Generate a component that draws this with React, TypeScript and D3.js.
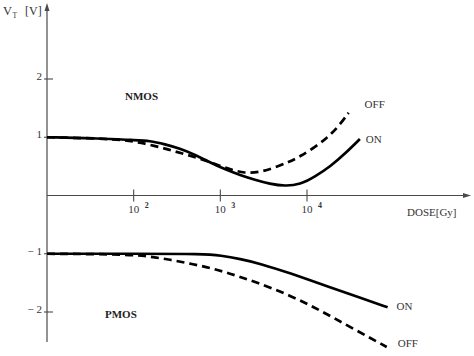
import React from "react";
import * as d3 from "d3";

// ---- data (dose in Gy, threshold voltage in V) ----
const nmosOnDose = [10, 41, 100, 155, 229, 339, 513, 759, 1122, 1698, 2512, 3715, 5623, 8318, 12303, 18621, 27542, 40738];
const nmosOnVt = [1.0, 0.98, 0.95, 0.94, 0.88, 0.81, 0.7, 0.57, 0.45, 0.35, 0.27, 0.2, 0.16, 0.19, 0.32, 0.5, 0.72, 0.97];

const nmosOffDose = [10, 41, 79, 117, 178, 263, 389, 589, 871, 1288, 1905, 2884, 4266, 6310, 8318, 12303, 17378, 22909, 30200];
const nmosOffVt = [1.0, 0.98, 0.95, 0.91, 0.85, 0.78, 0.71, 0.63, 0.54, 0.45, 0.38, 0.4, 0.48, 0.58, 0.67, 0.83, 1.0, 1.18, 1.42];

const pmosOnDose = [10, 100, 661, 1000, 1698, 2884, 6310, 18621, 40738, 85114];
const pmosOnVt = [-1.0, -1.0, -1.0, -1.03, -1.09, -1.17, -1.33, -1.58, -1.75, -1.92];

const pmosOffDose = [10, 91, 155, 263, 447, 759, 1288, 2512, 6310, 14125, 31623, 83176];
const pmosOffVt = [-1.0, -1.01, -1.05, -1.1, -1.17, -1.24, -1.34, -1.48, -1.71, -1.97, -2.26, -2.6];

const xTickExp = [2, 3, 4];
const yTicks = [2, 1, -1, -2];
const yTickLabels = ["2", "1", "\u2212 1", "\u2212 2"];

const W = 474;
const H = 356;
const serif = "Times New Roman, Liberation Serif, DejaVu Serif, serif";

export default function App() {
  const x = d3.scaleLog().domain([10, 10000]).range([47, 307]);
  const y = d3.scaleLinear().domain([-2, 2]).range([312, 79]);
  const x0 = x(10);
  const y0 = y(0);

  const line = d3
    .line<[number, number]>()
    .x((d) => x(d[0]))
    .y((d) => y(d[1]))
    .curve(d3.curveBasis);

  const zip = (a: number[], b: number[]) => a.map((v, i) => [v, b[i]] as [number, number]);

  const axisColor = "#4a4a4a";
  const textColor = "#333";

  const series = [
    { d: zip(nmosOnDose, nmosOnVt), dash: undefined },
    { d: zip(nmosOffDose, nmosOffVt), dash: "8,5" },
    { d: zip(pmosOnDose, pmosOnVt), dash: undefined },
    { d: zip(pmosOffDose, pmosOffVt), dash: "8,5" },
  ];

  const last = (a: number[]) => a[a.length - 1];

  return (
    <div style={{ position: "fixed", left: 0, top: 0 }}>
      <svg width={W} height={H} style={{ display: "block", background: "#fff" }}>
        {/* axes */}
        <line x1={x0} y1={8} x2={x0} y2={342} stroke={axisColor} strokeWidth={1.2} />
        <path d={`M${x0},3 L${x0 - 2.5},11 L${x0 + 2.5},11 Z`} fill={axisColor} />
        <line x1={x0} y1={y0} x2={465} y2={y0} stroke={axisColor} strokeWidth={1.2} />
        <path d={`M471,${y0} L463,${y0 - 2.5} L463,${y0 + 2.5} Z`} fill={axisColor} />

        {/* y ticks */}
        {yTicks.map((t, i) => (
          <g key={"y" + t}>
            <line x1={x0 - 3} x2={x0 + 6} y1={y(t)} y2={y(t)} stroke={axisColor} strokeWidth={1.1} />
            <text
              x={42}
              y={y(t) + 1}
              textAnchor="end"
              fontFamily={serif}
              fontSize={11}
              fill={textColor}
            >
              {yTickLabels[i]}
            </text>
          </g>
        ))}

        {/* x ticks */}
        {xTickExp.map((e) => {
          const xp = x(Math.pow(10, e));
          return (
            <g key={"x" + e}>
              <line x1={xp} x2={xp} y1={y0 - 6} y2={y0 + 6} stroke={axisColor} strokeWidth={1.1} />
              <text x={xp} y={213} textAnchor="middle" fontFamily={serif} fontSize={11} fill={textColor}>
                10
              </text>
              <text x={xp + 11} y={208} fontFamily={serif} fontSize={8} fontWeight="bold" fill={textColor}>
                {e}
              </text>
            </g>
          );
        })}

        {/* curves */}
        {series.map((s, i) => (
          <path
            key={i}
            d={line(s.d) || ""}
            fill="none"
            stroke="#000"
            strokeWidth={2.7}
            strokeDasharray={s.dash}
          />
        ))}

        {/* labels */}
        <text x={3} y={15} fontFamily={serif} fontSize={12.5} fill={textColor}>
          V
        </text>
        <text x={12.5} y={18} fontFamily={serif} fontSize={7.5} fill={textColor}>
          T
        </text>
        <text x={25} y={15} fontFamily={serif} fontSize={12} fill={textColor}>
          [V]
        </text>
        <text x={407} y={216} fontFamily={serif} fontSize={11} fill={textColor}>
          DOSE[Gy]
        </text>
        <text x={125} y={100} fontFamily={serif} fontSize={11} fontWeight="bold" fill="#222">
          NMOS
        </text>
        <text x={105} y={318} fontFamily={serif} fontSize={11} fontWeight="bold" fill="#222">
          PMOS
        </text>
        <text x={x(last(nmosOffDose)) + 16} y={y(last(nmosOffVt)) - 5} fontFamily={serif} fontSize={11} fill={textColor}>
          OFF
        </text>
        <text x={x(last(nmosOnDose)) + 6} y={y(last(nmosOnVt)) + 4} fontFamily={serif} fontSize={11} fill={textColor}>
          ON
        </text>
        <text x={x(last(pmosOnDose)) + 9} y={y(last(pmosOnVt)) + 3} fontFamily={serif} fontSize={11} fill={textColor}>
          ON
        </text>
        <text x={x(last(pmosOffDose)) + 11} y={y(last(pmosOffVt)) + 0} fontFamily={serif} fontSize={11} fill={textColor}>
          OFF
        </text>
      </svg>
    </div>
  );
}
